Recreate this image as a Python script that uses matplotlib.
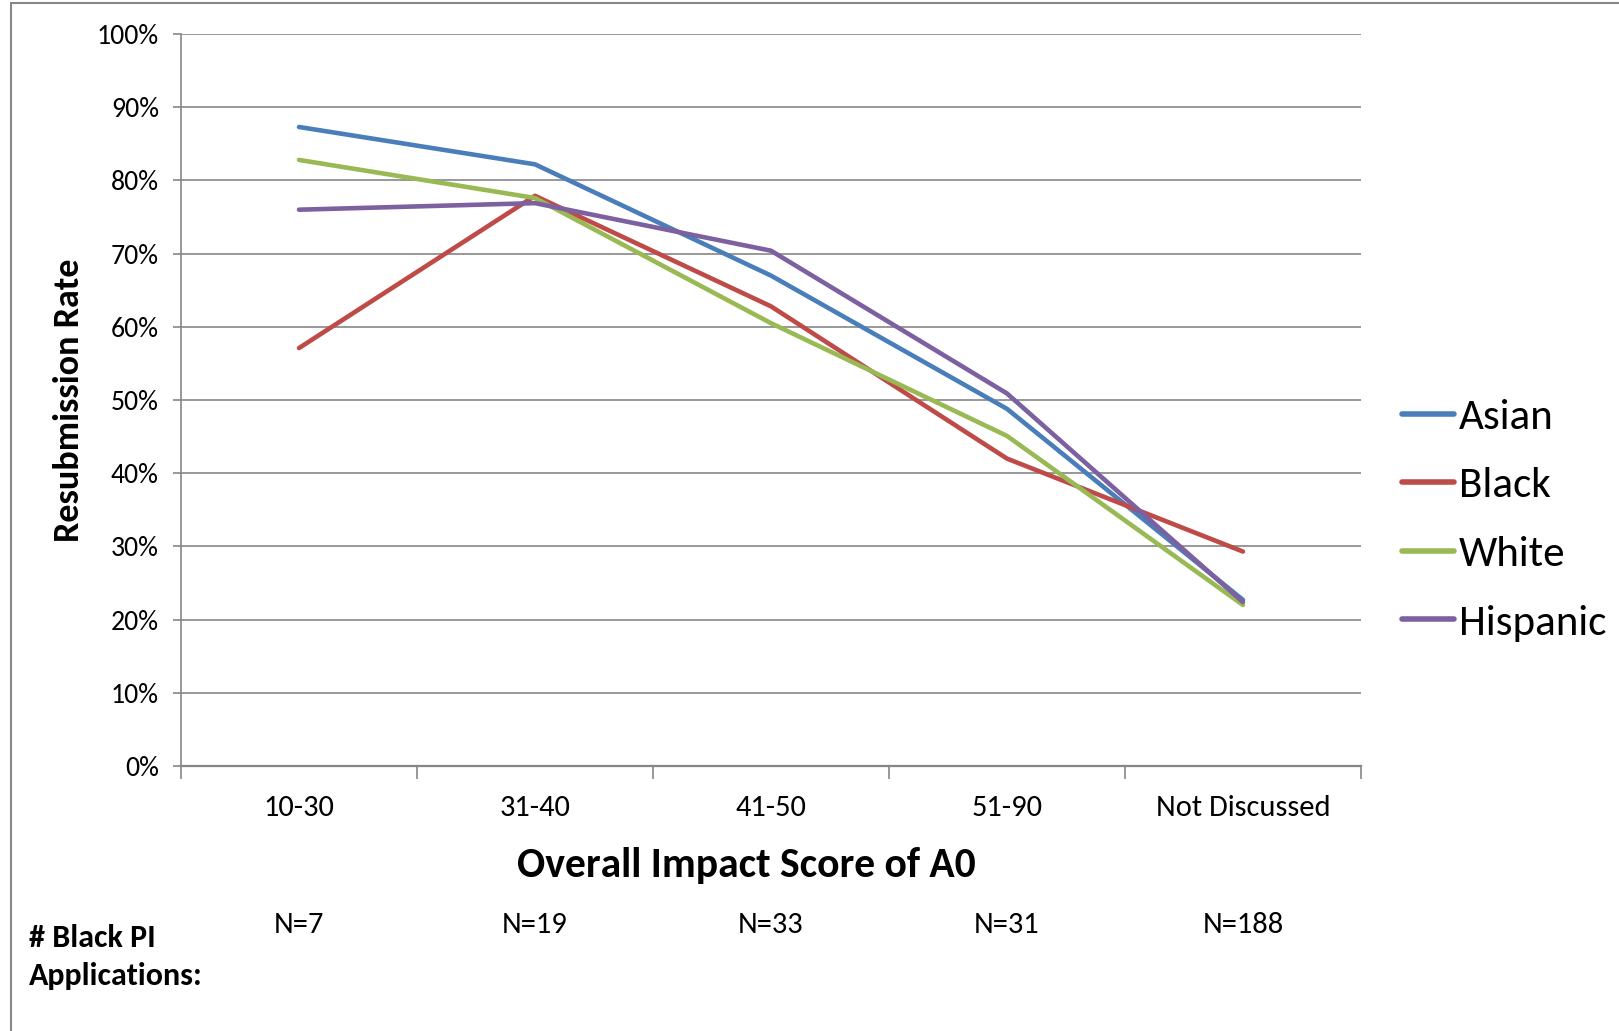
import matplotlib
matplotlib.use("Agg")
import matplotlib.pyplot as plt
from matplotlib.patches import Rectangle
from matplotlib.transforms import blended_transform_factory
from matplotlib import font_manager

categories = ["10-30", "31-40", "41-50", "51-90", "Not Discussed"]
asian = [87.3, 82.2, 67.0, 48.8, 22.7]
black = [57.1, 77.9, 62.8, 42.0, 29.3]
white = [82.8, 77.6, 60.5, 45.1, 22.0]
hispanic = [76.0, 76.9, 70.4, 50.9, 22.4]
series_names = ["Asian", "Black", "White", "Hispanic"]
n_labels = ["N=7", "N=19", "N=33", "N=31", "N=188"]
yticks = [0, 10, 20, 30, 40, 50, 60, 70, 80, 90, 100]

colors = ["#4A7EBB", "#BE4B48", "#98B954", "#7D60A0"]

avail = {f.name for f in font_manager.fontManager.ttflist}
fam = [f for f in ["Carlito", "Liberation Sans Narrow", "Liberation Sans", "DejaVu Sans"] if f in avail]
plt.rcParams['font.family'] = fam

W, H = 1619, 1031
fig = plt.figure(figsize=(W / 100, H / 100), dpi=100)
ax = fig.add_axes([0.1118, 0.257, 0.8406 - 0.1118, 0.967 - 0.257])

# figure border (left and top visible)
fig.patches.append(Rectangle((0.0065, -0.1), 1.2, 1.097, transform=fig.transFigure,
                             fill=False, edgecolor="#888888", linewidth=1.5))

x = list(range(len(categories)))
for vals, name, c in zip([asian, black, white, hispanic], series_names, colors):
    ax.plot(x, vals, color=c, linewidth=3.3, label=name, solid_capstyle="round")

ax.set_xlim(-0.5, len(categories) - 0.5)
ax.set_ylim(0, 100)
ax.set_yticks(yticks)
ax.set_yticklabels([f"{v}%" for v in yticks], fontsize=20)
ax.yaxis.grid(True, color="#868686", linewidth=1.2)
ax.set_axisbelow(True)

ax.set_xticks([i - 0.5 for i in range(len(categories) + 1)])
ax.set_xticklabels([])
ax.set_xticks(x, minor=True)
ax.set_xticklabels(categories, minor=True, fontsize=22)
ax.tick_params(axis='x', which='major', direction='out', length=9, color="#868686", width=1.2)
ax.tick_params(axis='x', which='minor', length=0, pad=21)
ax.tick_params(axis='y', direction='out', length=6, color="#868686", width=1.2, pad=10)

for s in ["top", "right"]:
    ax.spines[s].set_visible(False)
ax.spines["left"].set_color("#868686")
ax.spines["bottom"].set_color("#868686")
ax.spines["left"].set_linewidth(1.2)
ax.spines["bottom"].set_linewidth(1.6)

ax.set_xlabel("Overall Impact Score of A0", fontsize=30, fontweight="bold")
ax.xaxis.set_label_coords(0.479, -0.111)
ax.set_ylabel("Resubmission Rate", fontsize=26, fontweight="bold")
ax.yaxis.set_label_coords(-0.081, 0.5)

leg = ax.legend(loc="center left", bbox_to_anchor=(1.035, 0.336), frameon=False,
                fontsize=31, handlelength=1.2, handletextpad=0.12, labelspacing=0.73,
                borderaxespad=0, borderpad=0)
for line in leg.get_lines():
    line.set_linewidth(4.0)

# N labels below
trans = blended_transform_factory(ax.transData, fig.transFigure)
for i, lab in enumerate(n_labels):
    ax.text(i, 1 - 925 / H, lab, transform=trans, fontsize=22, ha="center", va="center")
fig.text(0.018, 1 - 938 / H, "# Black PI", fontsize=23, fontweight="bold", va="center", ha="left")
fig.text(0.018, 1 - 976 / H, "Applications:", fontsize=23, fontweight="bold", va="center", ha="left")

fig.savefig("out.png", dpi=100)
